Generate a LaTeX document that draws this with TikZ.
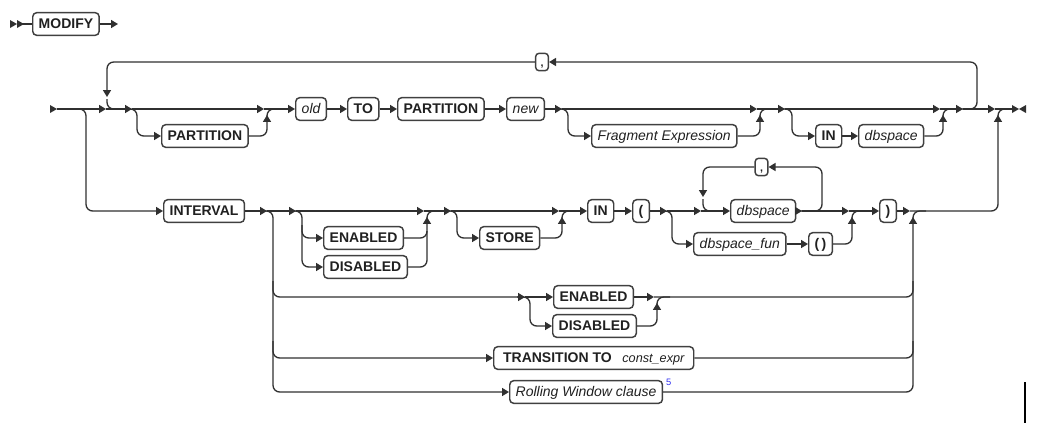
\documentclass[tikz,border=0pt]{standalone}
\usepackage{fontspec}
\setmainfont{Liberation Sans}
\usetikzlibrary{arrows.meta,calc}
\definecolor{ln}{HTML}{303030}
\definecolor{bd}{HTML}{404040}
\definecolor{txt}{HTML}{202020}
\definecolor{blu}{HTML}{3030F0}
\begin{document}
\begin{tikzpicture}[x=0.75pt,y=-0.75pt,
 box/.style={draw=bd,line width=1.1pt,rounded corners=3pt,inner xsep=4.5pt,inner ysep=0pt,minimum height=17pt,text height=7.6pt,text depth=1.6pt,anchor=west,text=txt},
 kw/.style={box,font=\fontsize{10.5}{12}\selectfont\bfseries},
 var/.style={box,font=\fontsize{10.5}{12}\selectfont\itshape},
 sepbox/.style={draw=bd,line width=1.1pt,rounded corners=2.5pt,inner sep=0pt,minimum width=9.5pt,minimum height=13pt,text height=7pt,text depth=0pt,font=\fontsize{8}{9}\selectfont\bfseries,text=txt},
 rr/.style={draw=ln,line width=1pt,rounded corners=5pt},
 ar/.style={rr,-{Triangle[length=5.2pt,width=6pt]}}]
\useasboundingbox (0,0) rectangle (1050,426);

% ---------- MODIFY row ----------
\node[kw] (modify) at (32,24) {MODIFY};
\fill[ln] (10,20) -- (17,24) -- (10,28) -- cycle;
\fill[ln] (17,20) -- (24,24) -- (17,28) -- cycle;
\coordinate (mst) at (17,24);
\coordinate (mend) at (118,24);
\draw[rr] (mst) -- (modify.west);
\draw[ar] (modify.east) -- (mend);

% ---------- nodes ----------
\node[kw] (partA) at (161,136) {PARTITION};
\node[var] (old) at (295,109) {old};
\node[kw] (to) at (347,109) {TO};
\node[kw] (partB) at (397,109) {PARTITION};
\node[var] (new) at (506,109) {new};
\node[var] (frag) at (591,136) {Fragment Expression};
\node[kw] (inA) at (815,136) {IN};
\node[var] (dbA) at (858,136) {dbspace};
\node[sepbox] (cA) at (542,62) {,};

\node[kw] (interval) at (163,211) {INTERVAL};
\node[kw] (en1) at (323,238) {ENABLED};
\node[kw] (dis1) at (323,267) {DISABLED};
\node[kw] (store) at (479,238) {STORE};
\node[kw] (inB) at (587,211) {IN};
\node[kw] (lp) at (632,211) {(};
\node[var] (dbB) at (730,211) {dbspace};
\node[sepbox] (cB) at (761.5,167) {,};
\node[var] (dbfun) at (693,244) {dbspace\_fun};
\node[kw] (par) at (808,244) {(\,)};
\node[kw] (rp) at (879,211) {)};

\node[kw] (en2) at (553,297) {ENABLED};
\node[kw] (dis2) at (552,326) {DISABLED};
\node[kw,minimum width=150pt] (trans) at (493,358) {TRANSITION TO\hspace{8pt}{\mdseries\itshape\fontsize{9.5}{11}\selectfont const\_expr}};
\node[var] (roll) at (509,392) {Rolling Window clause};
\node[font=\fontsize{7}{8}\selectfont,text=blu,anchor=west,inner sep=0pt,xshift=2pt,yshift=-2pt] (fn) at (roll.north east) {5};

% ---------- junctions ----------
\coordinate (s) at (57,109);
\coordinate (j0) at (86,109);
\coordinate (m0) at (106,109);
\coordinate (b1) at (132,109);
\coordinate (b2) at (264,109);
\coordinate (c1) at (562,109);
\coordinate (c2) at (757,109);
\coordinate (d1) at (785,109);
\coordinate (d2) at (940,109);
\coordinate (e1) at (963,109);
\coordinate (f1) at (995,109);
\coordinate (z) at (1012,109);

\coordinate (k1) at (267,211);
\coordinate (v1) at (273,211);
\coordinate (e2) at (296,211);
\coordinate (f2) at (424,211);
\coordinate (g2) at (451,211);
\coordinate (h2) at (559,211);
\coordinate (k2) at (667,211);
\coordinate (l2) at (701,211);
\coordinate (n2) at (802,211);
\coordinate (p2) at (849,211);
\coordinate (g913) at (910,211);
\coordinate (r3) at (525,297);
\coordinate (r3m) at (654,297);

% ---------- main row ----------
\fill[ln] (50,105) -- (57,109) -- (50,113) -- cycle;
\draw[ar] (s) -- (m0);
\draw[rr] ($(m0)+(1,-10)$) |- ($(m0)+(14,0)$);
\draw[ar] (m0) -- (b1);
\draw[ar] ($(b1)+(-8,0)$) -| ($(b1)+(5,14)$) |- (partA.west);
\draw[ar] (b1) -- (b2);
\draw[ar] (partA.east) -| ($(b2)+(3,6)$);
\draw[rr] ($(b2)+(3,8)$) |- ($(b2)+(16,0)$);
\draw[ar] (b2) -- (old.west);
\draw[ar] (old.east) -- (to.west);
\draw[ar] (to.east) -- (partB.west);
\draw[ar] (partB.east) -- (new.west);
\draw[ar] (new.east) -- (c1);
\draw[ar] ($(c1)+(-8,0)$) -| ($(c1)+(6,14)$) |- (frag.west);
\draw[ar] (c1) -- (c2);
\draw[ar] (frag.east) -| ($(c2)+(3,6)$);
\draw[rr] ($(c2)+(3,8)$) |- ($(c2)+(16,0)$);
\draw[ar] (c2) -- (d1);
\draw[ar] ($(d1)+(-8,0)$) -| ($(d1)+(7,14)$) |- (inA.west);
\draw[ar] (inA.east) -- (dbA.west);
\draw[ar] (d1) -- (d2);
\draw[ar] (dbA.east) -| ($(d2)+(3,6)$);
\draw[rr] ($(d2)+(3,8)$) |- ($(d2)+(16,0)$);
\draw[ar] (d2) -- (e1);
\draw[ar] ($(e1)+(-6,0)$) -| ($(e1)+(14,-24)$) |- (cA.east);
\draw[ar] (cA.west) -| ($(m0)+(1,-12)$);
\draw[ar] (e1) -- (f1);
\draw[rr] ($(f1)+(3,8)$) |- ($(f1)+(14,0)$);
\draw[rr] (f1) -- (z);
\fill[ln] (1012,105) -- (1019,109) -- (1012,113) -- cycle;
\fill[ln] (1026,105) -- (1019,109) -- (1026,113) -- cycle;

% ---------- INTERVAL row ----------
\draw[ar] ($(j0)+(-10,0)$) -| ($(j0)+(0,50)$) |- (interval.west);
\draw[ar] (interval.east) -- (k1);
\draw[ar] ($(k1)+(-8,0)$) -| ($(v1)+(0,100)$) |- (roll.west);
\draw[ar] (k1) -- (e2);
\draw[ar] ($(e2)+(-8,0)$) -| ($(e2)+(6,14)$) |- (en1.west);
\draw[ar] ($(e2)+(6,14)$) |- (dis1.west);
\draw[ar] (e2) -- (f2);
\draw[ar] (en1.east) -| ($(f2)+(3,6)$);
\draw[rr] (dis1.east) -| ($(f2)+(3,20)$);
\draw[rr] ($(f2)+(3,8)$) |- ($(f2)+(16,0)$);
\draw[ar] (f2) -- (g2);
\draw[ar] ($(g2)+(-8,0)$) -| ($(g2)+(6,14)$) |- (store.west);
\draw[ar] (g2) -- (h2);
\draw[ar] (store.east) -| ($(h2)+(3,6)$);
\draw[rr] ($(h2)+(3,8)$) |- ($(h2)+(16,0)$);
\draw[ar] (h2) -- (inB.west);
\draw[ar] (inB.east) -- (lp.west);
\draw[ar] (lp.east) -- (k2);
\draw[ar] ($(k2)+(-8,0)$) -| ($(k2)+(5,14)$) |- (dbfun.west);
\draw[ar] (k2) -- (l2);
\draw[rr] ($(l2)+(2,-12)$) |- ($(l2)+(15,0)$);
\draw[ar] (l2) -- (dbB.west);
\draw[ar] (dbB.east) -- (n2);
\draw[ar] ($(n2)+(-6,0)$) -| ($(n2)+(20,-20)$) |- (cB.east);
\draw[ar] (cB.west) -| ($(l2)+(2,-14)$);
\draw[ar] (n2) -- (p2);
\draw[ar] (dbfun.east) -- (par.west);
\draw[ar] (par.east) -| ($(p2)+(3,6)$);
\draw[rr] ($(p2)+(3,8)$) |- ($(p2)+(16,0)$);
\draw[ar] (p2) -- (rp.west);
\draw[ar] (rp.east) -- (g913);
\draw[rr] ($(g913)+(3,8)$) |- ($(g913)+(16,0)$);
\draw[ar] (g913) -| ($(f1)+(3,6)$);

% ---------- lower rows ----------
\draw[ar] ($(v1)+(0,70)$) |- (r3);
\draw[ar] (r3) -- (en2.west);
\draw[ar] ($(r3)+(-8,0)$) -| ($(r3)+(5,14)$) |- (dis2.west);
\draw[ar] (en2.east) -- (r3m);
\draw[ar] (dis2.east) -| ($(r3m)+(3,6)$);
\draw[rr] ($(r3m)+(3,8)$) |- ($(r3m)+(16,0)$);
\draw[rr] (r3m) -| ($(g913)+(3,70)$);
\draw[ar] ($(v1)+(0,130)$) |- (trans.west);
\draw[rr] (trans.east) -| ($(g913)+(3,130)$);
\draw[ar] (roll.east) -| ($(g913)+(3,6)$);

% ---------- stray bar ----------
\draw[black,line width=1.5pt] (1025,382) -- (1025,423);
\end{tikzpicture}
\end{document}
